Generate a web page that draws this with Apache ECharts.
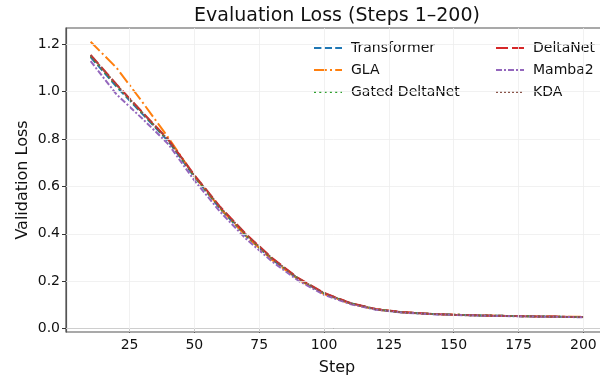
<!DOCTYPE html>
<html><head><meta charset="utf-8">
<script src="https://cdn.jsdelivr.net/npm/echarts@6/dist/echarts.min.js"></script>
<style>html,body{margin:0;padding:0;background:#fff}#c{width:600px;height:376px}</style>
</head><body><div id="c"></div>
<script>
const steps = [10,20,30,40,50,60,70,80,90,100,110,120,130,140,150,160,170,180,190,200];
const transformer = [1.145,1.020,0.905,0.790,0.640,0.505,0.390,0.292,0.210,0.148,0.107,0.082,0.069,0.063,0.059,0.056,0.054,0.052,0.050,0.049];
const gla = [1.210,1.100,0.955,0.805,0.643,0.507,0.390,0.290,0.208,0.146,0.106,0.081,0.069,0.063,0.059,0.056,0.054,0.052,0.051,0.050];
const gatedDeltaNet = [1.148,1.025,0.908,0.793,0.643,0.508,0.393,0.294,0.211,0.149,0.108,0.082,0.069,0.063,0.059,0.056,0.054,0.052,0.050,0.049];
const deltaNet = [1.155,1.030,0.912,0.797,0.648,0.513,0.398,0.298,0.214,0.151,0.109,0.083,0.070,0.063,0.059,0.056,0.054,0.052,0.051,0.049];
const mamba2 = [1.128,0.988,0.885,0.778,0.625,0.492,0.378,0.283,0.203,0.143,0.104,0.080,0.068,0.062,0.058,0.055,0.053,0.051,0.050,0.048];
const kda = [1.152,1.028,0.910,0.795,0.646,0.511,0.396,0.296,0.212,0.150,0.108,0.082,0.069,0.063,0.059,0.056,0.054,0.052,0.050,0.049];
const xTicks = [25,50,75,100,125,150,175,200];
const yTicks = [0,0.2,0.4,0.6,0.8,1.0,1.2];

const FONT = 'DejaVu Sans';
const LW = 2;
function mk(name, vals, color, dash) {
  return {
    name, type: 'line', data: steps.map((s,i)=>[s, vals[i]]),
    showSymbol: false, symbol: 'none', z: 3,
    lineStyle: { color, width: LW, type: dash, cap: 'butt' },
    itemStyle: { color }
  };
}
const series = [
  {
    name: '_grid', type: 'line', data: [], silent: true, z: 1,
    markLine: {
      silent: true, symbol: 'none', animation: false,
      label: { show: false },
      lineStyle: { color: '#eeeeee', width: 0.8, type: 'solid' },
      data: xTicks.map(v=>({xAxis: v})).concat(yTicks.map(v=>({yAxis: v})))
    }
  },
  mk('Transformer', transformer, '#1f77b4', [7.4,3.2]),
  mk('GLA', gla, '#ff7f0e', [12.8,3.2,2,3.2]),
  mk('Gated DeltaNet', gatedDeltaNet, '#2ca02c', [2,3.3]),
  mk('DeltaNet', deltaNet, '#d62728', [12,4]),
  mk('Mamba2', mamba2, '#9467bd', [6,2,2,2]),
  mk('KDA', kda, '#8c564b', [2,2])
];
const legendCommon = {
  orient: 'vertical', itemWidth: 28, itemHeight: 14, itemGap: 8,
  itemStyle: { opacity: 0 },
  lineStyle: { width: 2 },
  textStyle: { fontFamily: FONT, fontSize: 14, color: '#111', padding: [0,0,0,4] },
  selectedMode: false
};
const option = {
  animation: false,
  backgroundColor: '#fff',
  graphic: [{
    type: 'text', x: 337, y: 16,
    style: { text: 'Evaluation Loss (Steps 1–200)', fontFamily: FONT, fontSize: 19, fill: '#111', textAlign: 'center', textVerticalAlign: 'middle' }
  }],
  legend: [
    Object.assign({}, legendCommon, { left: 308, top: 36, data: ['Transformer','GLA','Gated DeltaNet'] }),
    Object.assign({}, legendCommon, { left: 490, top: 36, data: ['DeltaNet','Mamba2','KDA'] })
  ],
  grid: { left: 66, right: -8, top: 28, bottom: 44, outerBoundsMode: 'none', containLabel: false, show: true, borderColor: '#555', borderWidth: 1.2, backgroundColor: 'transparent' },
  xAxis: {
    type: 'value', min: 0.5, max: 209.5,
    name: 'Step', nameLocation: 'middle', nameGap: 28, nameMoveOverlap: false,
    nameTextStyle: { fontFamily: FONT, fontSize: 16, color: '#111' },
    axisLine: { show: true, lineStyle: { color: '#555', width: 1.2 } },
    axisTick: { show: true, inside: false, length: 4, customValues: xTicks, lineStyle: { color: '#333' } },
    axisLabel: { customValues: xTicks, fontFamily: FONT, fontSize: 14, color: '#111', margin: 6 },
    splitLine: { show: false }
  },
  yAxis: {
    type: 'value', min: -0.014, max: 1.268,
    name: 'Validation Loss', nameLocation: 'middle', nameGap: 35, nameMoveOverlap: false,
    nameTextStyle: { fontFamily: FONT, fontSize: 16, color: '#111' },
    axisLine: { show: true, lineStyle: { color: '#555', width: 1.2 } },
    axisTick: { show: true, inside: false, length: 4, customValues: yTicks, lineStyle: { color: '#333' } },
    axisLabel: { customValues: yTicks, fontFamily: FONT, fontSize: 14, color: '#111', margin: 6, formatter: v => v.toFixed(1) },
    splitLine: { show: false }
  },
  series
};
const chart = echarts.init(document.getElementById('c'), null, { renderer: 'canvas' });
chart.setOption(option);
</script></body></html>
